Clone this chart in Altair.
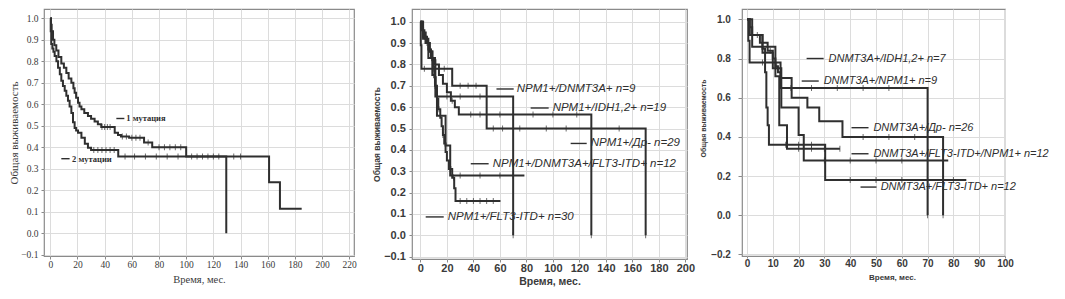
import altair as alt
import pandas as pd

# ---------------- Panel 1 data ----------------
p1_names = ["1 мутация", "2 мутации"]
p1_t = [
    [0, 0.5, 1, 2, 3, 4.4, 6, 8.1, 10, 11.8, 13.5, 15.5, 17, 17.9, 19, 20.4, 21.5, 22.9, 25, 27.7,
     30, 32.6, 35, 37.5, 47.4, 49.8, 52, 58, 69, 75, 100, 161, 169, 185],
    [0, 0.3, 0.7, 1.5, 2.3, 3.2, 4.5, 5.7, 7, 8.1, 9.3, 10.6, 11.8, 13, 14.2, 15.5, 16.7, 17.9, 19, 20.4,
     22.9, 25.4, 27.7, 30, 50, 129.5],
]
p1_s = [
    [1.0, 0.97, 0.94, 0.90, 0.875, 0.85, 0.82, 0.79, 0.77, 0.746, 0.72, 0.70, 0.675, 0.654, 0.63, 0.607, 0.59,
     0.577, 0.56, 0.546, 0.533, 0.52, 0.507, 0.495, 0.468, 0.457, 0.45, 0.445, 0.422, 0.40, 0.357, 0.237, 0.114, 0.114],
    [1.0, 0.94, 0.88, 0.86, 0.845, 0.825, 0.80, 0.77, 0.74, 0.71, 0.685, 0.663, 0.64, 0.617, 0.59, 0.56, 0.516,
     0.49, 0.478, 0.468, 0.445, 0.417, 0.398, 0.387, 0.357, 0.0],
]
p1_cens = [
    [38, 40, 42, 44, 53, 56, 60, 63, 66, 72, 80, 84, 88, 92, 96, 104, 108, 112, 116, 120, 124, 135, 140],
    [32, 35, 38, 41, 44, 47, 55, 62, 70, 78, 86, 94],
]
p1_lab_t = [55.9, 16.0]
p1_lab_s = [0.534, 0.347]
p1_dash0 = [48.6, 8.1]
p1_dash1 = [54.5, 14.2]

# ---------------- Panel 2 data ----------------
p2_names = ["NPM1+/DNMT3A+ n=9", "NPM1+/IDH1,2+ n=19", "NPM1+/Др- n=29",
            "NPM1+/DNMT3A+/FLT3-ITD+ n=12", "NPM1+/FLT3-ITD+ n=30"]
p2_t = [
    [0, 0.3, 0.8, 24, 50, 170],
    [0, 2, 4, 7, 9, 11, 14, 17, 20, 23, 26, 29, 129],
    [0, 1, 3, 5, 7, 9, 11.3, 70],
    [0, 2, 6, 9, 11, 12.5, 19, 22.5, 78.5],
    [0, 1, 2, 4, 6, 8, 9.5, 10.5, 11.5, 12.5, 13.5, 15, 16, 17, 18, 19, 20, 21.5, 24, 25.5, 26.5, 60.4],
]
p2_s = [
    [1.0, 0.89, 0.78, 0.70, 0.50, 0.0],
    [1.0, 0.95, 0.90, 0.86, 0.83, 0.80, 0.75, 0.71, 0.67, 0.63, 0.60, 0.565, 0.0],
    [1.0, 0.96, 0.93, 0.90, 0.86, 0.82, 0.65, 0.0],
    [1.0, 0.92, 0.83, 0.75, 0.70, 0.56, 0.42, 0.28, 0.28],
    [1.0, 0.97, 0.93, 0.90, 0.87, 0.83, 0.79, 0.74, 0.69, 0.64, 0.59, 0.55, 0.51, 0.47, 0.43, 0.39, 0.35,
     0.31, 0.27, 0.22, 0.16, 0.16],
]
p2_cens = [
    [3, 10, 18, 30, 36, 42, 55, 62, 75, 95, 110, 150, 170],
    [8, 24, 38, 45, 60, 85, 100, 118, 129],
    [5, 20, 30, 45, 70],
    [30, 45, 60, 70],
    [3, 7, 14, 17, 23, 25, 30, 35, 40, 45, 50, 55],
]
p2_lab_t = [72.7, 99.8, 128.5, 54.6, 20.6]
p2_lab_s = [0.685, 0.596, 0.43, 0.335, 0.086]
p2_dash0 = [57.4, 83.2, 113.4, 38.0, 4.0]
p2_dash1 = [70.4, 96.8, 125.5, 51.5, 17.6]

# ---------------- Panel 3 data ----------------
p3_names = ["DNMT3A+/IDH1,2+ n=7", "DNMT3A+/NPM1+ n=9", "DNMT3A+/Др- n=26",
            "DNMT3A+/FLT3-ITD+/NPM1+ n=12", "DNMT3A+/FLT3-ITD+ n=12"]
p3_t = [
    [0, 2, 11, 12.5, 15.5, 36],
    [0, 0.5, 1, 13, 70],
    [0, 1, 2, 5, 8, 10, 11, 12, 13, 17.3, 23.4, 28, 37, 76],
    [0, 1, 6, 10, 13.3, 20, 22, 78],
    [0, 1, 6, 7, 7.5, 8, 8.5, 30.3, 85],
]
p3_s = [
    [1.0, 0.86, 0.71, 0.46, 0.34, 0.34],
    [1.0, 0.89, 0.78, 0.65, 0.0],
    [1.0, 0.96, 0.92, 0.88, 0.84, 0.80, 0.76, 0.73, 0.70, 0.60, 0.55, 0.48, 0.40, 0.0],
    [1.0, 0.92, 0.83, 0.75, 0.55, 0.41, 0.28, 0.28],
    [1.0, 0.92, 0.85, 0.73, 0.55, 0.46, 0.36, 0.18, 0.18],
]
p3_cens = [
    [20, 25, 30, 36],
    [6, 17, 25, 35, 45, 55, 70],
    [9, 11.5, 45, 55, 65, 76],
    [30, 40, 50, 60],
    [4, 15, 20, 25, 40, 50, 60, 70, 80],
]
p3_lab_t = [31.6, 29.7, 49.0, 49.0, 51.8]
p3_lab_s = [0.80, 0.685, 0.447, 0.314, 0.144]
p3_dash0 = [23.1, 21.2, 40.5, 40.5, 44.0]
p3_dash1 = [29.7, 27.8, 47.1, 47.1, 50.2]


def step_val(ts, ss, t):
    v = ss[0]
    for ti, si in zip(ts, ss):
        if ti <= t:
            v = si
    return v


def frames(names, T, S, C, lt, ls, d0, d1):
    rows, crow, lrow = [], [], []
    for k, name in enumerate(names):
        for i, (t, s) in enumerate(zip(T[k], S[k])):
            rows.append({"t": t, "s": s, "curve": name, "i": i})
        for t in C[k]:
            crow.append({"t": t, "s": step_val(T[k], S[k], t), "curve": name})
        lrow.append({"t": lt[k], "s": ls[k], "t0": d0[k], "t1": d1[k], "curve": name})
    return pd.DataFrame(rows), pd.DataFrame(crow), pd.DataFrame(lrow)


def panel(names, T, S, C, lt, ls, d0, d1, colors, widths, xdom, ydom, xvals, yvals, yfmt,
          W, H, font, labsz, titsz_x, titsz_y, weight, ytick, ypad, yext, ytp, xtick, xpad, xtp,
          txtfont, txtsz, txtstyle, txtweight, titleX=None, titleY=None):
    ldf, cdf, labdf = frames(names, T, S, C, lt, ls, d0, d1)
    xs = alt.Scale(domain=xdom, nice=False, zero=False)
    ys = alt.Scale(domain=ydom, nice=False, zero=False)
    xa_kw = dict(title="Время, мес.", values=xvals, format="d", labelFont=font, labelFontSize=labsz,
                 labelFontWeight=weight, labelColor="#3a3a3a", titleFont=font, titleFontSize=titsz_x,
                 titleFontWeight=weight, titleColor="#3a3a3a", grid=True, gridColor="#dcdcdc",
                 tickColor="#8a8a8a", tickSize=xtick, labelPadding=xpad, titlePadding=xtp, domain=False,
                 labelFlush=False)
    if titleX is not None:
        xa_kw["titleX"] = titleX
    ya_kw = dict(title="Общая выживаемость", values=yvals, format=yfmt, labelFont=font, labelFontSize=labsz,
                 labelFontWeight=weight, labelColor="#3a3a3a", titleFont=font, titleFontSize=titsz_y,
                 titleFontWeight=weight, titleColor="#3a3a3a", grid=True, gridColor="#dcdcdc",
                 tickColor="#8a8a8a", tickSize=ytick, labelPadding=ypad, minExtent=yext, maxExtent=yext,
                 titlePadding=ytp, domain=False, labelFlush=False)
    if titleY is not None:
        ya_kw["titleY"] = titleY
    xa = alt.Axis(**xa_kw)
    ya = alt.Axis(**ya_kw)
    cs = alt.Scale(domain=names, range=colors)
    ws = alt.Scale(domain=names, range=widths)

    lines = alt.Chart(ldf).mark_line(interpolate="step-after").encode(
        x=alt.X("t:Q", scale=xs, axis=xa),
        y=alt.Y("s:Q", scale=ys, axis=ya),
        color=alt.Color("curve:N", scale=cs, legend=None),
        strokeWidth=alt.StrokeWidth("curve:N", scale=ws, legend=None),
        order="i:Q",
    )
    cens = alt.Chart(cdf).mark_tick(orient="vertical", size=6, thickness=1).encode(
        x=alt.X("t:Q", scale=xs, axis=xa),
        y=alt.Y("s:Q", scale=ys, axis=ya),
        color=alt.Color("curve:N", scale=cs, legend=None),
    )
    dashes = alt.Chart(labdf).mark_rule(strokeWidth=1.4, color="#2e2e2e").encode(
        x=alt.X("t0:Q", scale=xs, axis=xa),
        x2="t1:Q",
        y=alt.Y("s:Q", scale=ys, axis=ya),
    )
    texts = alt.Chart(labdf).mark_text(align="left", baseline="middle", font=txtfont, fontSize=txtsz,
                                       fontStyle=txtstyle, fontWeight=txtweight, color="#2e2e2e").encode(
        x=alt.X("t:Q", scale=xs, axis=xa),
        y=alt.Y("s:Q", scale=ys, axis=ya),
        text="curve:N",
    )
    return alt.layer(lines, cens, dashes, texts).properties(width=W, height=H)


def rng(a, b, step, nd):
    n = int(round((b - a) / step))
    return [round(a + k * step, nd) for k in range(n + 1)]


p1 = panel(p1_names, p1_t, p1_s, p1_cens, p1_lab_t, p1_lab_s, p1_dash0, p1_dash1,
           ["#2f2f2f", "#2f2f2f"], [2.0, 2.0],
           [-4.64, 223.5], [-0.1056, 1.0433], rng(0, 220, 20, 0), rng(-0.1, 1.0, 0.1, 1), ".1f",
           310, 247, "Liberation Serif", 9.5, 10.5, 11, "normal", 3, 3, 21, 3.4, 3, 0, 6,
           "Liberation Serif", 8.5, "normal", "bold")

p2 = panel(p2_names, p2_t, p2_s, p2_cens, p2_lab_t, p2_lab_s, p2_dash0, p2_dash1,
           ["#111111", "#6a6a6a", "#404040", "#111111", "#6e6e6e"], [2.2, 1.5, 1.8, 2.6, 1.5],
           [-6.34, 201.2], [-0.111, 1.0595], rng(0, 200, 20, 0), rng(-0.1, 1.0, 0.1, 1), ".1f",
           275, 250, "Liberation Sans", 11, 10.5, 8.5, "bold", 3, 3.6, 26, 4.9, 3, 0, 3.5,
           "Liberation Sans", 11.5, "italic", "normal")

p3 = panel(p3_names, p3_t, p3_s, p3_cens, p3_lab_t, p3_lab_s, p3_dash0, p3_dash1,
           ["#6e6e6e", "#333333", "#777777", "#4a4a4a", "#111111"], [1.5, 1.8, 1.5, 1.6, 2.6],
           [-1.94, 100], [-0.2077, 1.0526], rng(0, 100, 10, 0), rng(-0.2, 1.0, 0.2, 1), ".1f",
           263, 247, "Liberation Sans", 10, 8, 7, "bold", 4, 7.6, 29, 6.3, 2, 0, 5.5,
           "Liberation Sans", 11, "italic", "normal", titleX=150, titleY=109)

chart = alt.hconcat(alt.hconcat(p1, p2, spacing=14), p3, spacing=3).properties(
    padding={"left": 0, "top": 0, "right": 0, "bottom": 0}
).configure_view(stroke="#8a8a8a", strokeWidth=1.2)

chart.save("out.html", embed_options={"renderer": "svg", "actions": False})
